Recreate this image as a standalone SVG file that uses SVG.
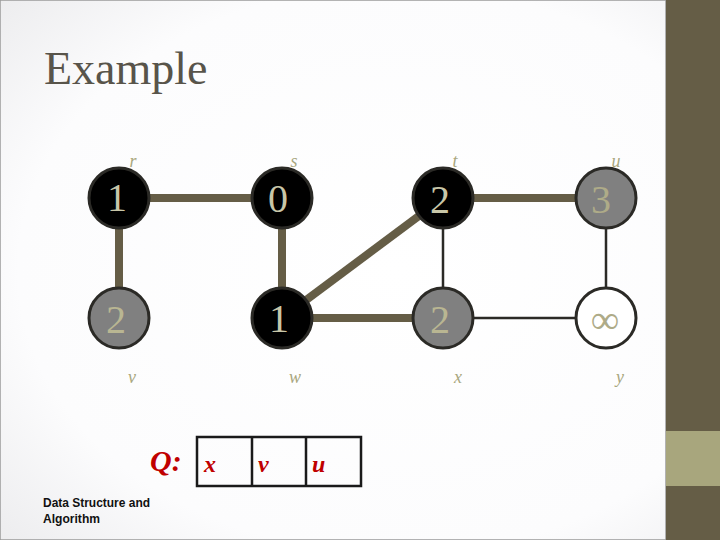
<svg xmlns="http://www.w3.org/2000/svg" width="720" height="540" viewBox="0 0 720 540">
<defs>
<radialGradient id="bg" cx="0.55" cy="0.5" r="0.75">
<stop offset="0" stop-color="#ffffff"/>
<stop offset="0.7" stop-color="#fcfcfd"/>
<stop offset="1" stop-color="#ececee"/>
</radialGradient>
</defs>
<style>
.thick{stroke:#655d46;stroke-width:8;fill:none}
.thin{stroke:#2b2a26;stroke-width:2.5;fill:none}
.node{stroke:#2b2a26;stroke-width:3}
.num{font-family:"Liberation Serif",serif;font-size:40px;text-anchor:middle}
.lbl{font-family:"Liberation Serif",serif;font-style:italic;font-size:18px;fill:#a9a77e;text-anchor:middle}
.q{font-family:"Liberation Serif",serif;font-style:italic;font-weight:bold;fill:#c00000}
.foot{font-family:"Liberation Sans",sans-serif;font-size:12px;font-weight:bold;fill:#111}
</style>
<rect x="0" y="0" width="720" height="540" fill="url(#bg)"/>
<rect x="0" y="0" width="666" height="540" fill="none" stroke="#9a9a9a" stroke-width="1.5"/>
<rect x="666" y="0" width="54" height="540" fill="#655d46"/>
<rect x="666" y="431" width="54" height="55" fill="#a8a67d"/>
<text x="44" y="84" font-family="Liberation Serif,serif" font-size="46" fill="#58544a">Example</text>
<g id="connectors">
<line class="thick" x1="119" y1="198" x2="282" y2="198"/>
<line class="thick" x1="119" y1="198" x2="119" y2="318"/>
<line class="thick" x1="282" y1="198" x2="282" y2="318"/>
<line class="thick" x1="282" y1="318" x2="443" y2="198"/>
<line class="thick" x1="282" y1="318" x2="443" y2="318"/>
<line class="thick" x1="443" y1="198" x2="606" y2="198"/>
<line class="thin" x1="443" y1="198" x2="443" y2="318"/>
<line class="thin" x1="606" y1="198" x2="606" y2="318"/>
<line class="thin" x1="443" y1="318" x2="606" y2="318"/>
</g>
<g id="node-r"><circle class="node" cx="119" cy="198" r="30" fill="#000"/><text class="num" x="117" y="211" fill="#c8c6a8">1</text><text class="lbl" x="133" y="167">r</text></g>
<g id="node-s"><circle class="node" cx="282" cy="198" r="30" fill="#000"/><text class="num" x="278" y="212" fill="#c8c6a8">0</text><text class="lbl" x="294" y="167">s</text></g>
<g id="node-t"><circle class="node" cx="443" cy="198" r="30" fill="#000"/><text class="num" x="440" y="213" fill="#c8c6a8">2</text><text class="lbl" x="455" y="167">t</text></g>
<g id="node-u"><circle class="node" cx="606" cy="198" r="30" fill="#808080"/><text class="num" x="601" y="213" fill="#aeab88">3</text><text class="lbl" x="616" y="167">u</text></g>
<g id="node-v"><circle class="node" cx="119" cy="318" r="30" fill="#808080"/><text class="num" x="116" y="333" fill="#b9b692">2</text><text class="lbl" x="132" y="383">v</text></g>
<g id="node-w"><circle class="node" cx="282" cy="318" r="30" fill="#000"/><text class="num" x="279" y="332" fill="#c8c6a8">1</text><text class="lbl" x="295" y="383">w</text></g>
<g id="node-x"><circle class="node" cx="443" cy="318" r="30" fill="#808080"/><text class="num" x="440" y="333" fill="#b9b692">2</text><text class="lbl" x="458" y="383">x</text></g>
<g id="node-y"><circle class="node" cx="606" cy="318" r="30" fill="#fff"/><text class="num" x="605" y="333" fill="#aeab88">∞</text><text class="lbl" x="620" y="383">y</text></g>
<g id="queue">
<text class="q" x="150" y="471" font-size="30" font-weight="normal">Q:</text>
<rect x="197" y="437" width="164" height="49" fill="none" stroke="#1a1a1a" stroke-width="2.5"/>
<line x1="252" y1="437" x2="252" y2="486" stroke="#1a1a1a" stroke-width="2.5"/>
<line x1="306" y1="437" x2="306" y2="486" stroke="#1a1a1a" stroke-width="2.5"/>
<text class="q" x="204" y="472" font-size="24">x</text>
<text class="q" x="258" y="472" font-size="24">v</text>
<text class="q" x="312" y="472" font-size="24">u</text>
</g>
<text class="foot" x="43" y="507" textLength="107" lengthAdjust="spacingAndGlyphs">Data Structure and</text>
<text class="foot" x="43" y="523" textLength="57" lengthAdjust="spacingAndGlyphs">Algorithm</text>
</svg>
